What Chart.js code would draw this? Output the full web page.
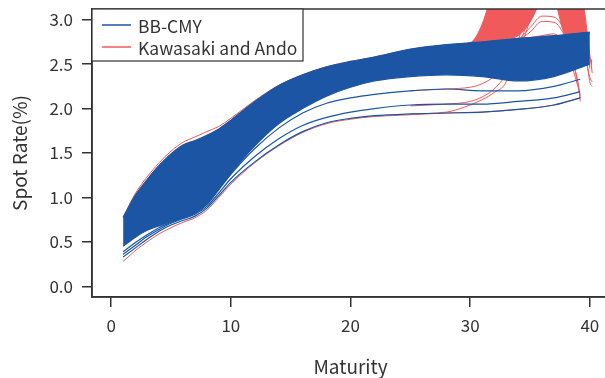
<!DOCTYPE html>
<html>
<head>
<meta charset="utf-8">
<script src="https://cdn.jsdelivr.net/npm/chart.js@4.4.1/dist/chart.umd.min.js"></script>
<style>
  html, body { margin: 0; padding: 0; background: #fff; overflow: hidden; }
  #wrap { width: 620px; height: 378px; }
</style>
</head>
<body>
<div id="wrap"><canvas id="chart"></canvas></div>
<script>
const blue = "#1b55a3";
const red = "#f05a5a";
const ink = "#333333";

const legendLabels = ["BB-CMY", "Kawasaki and Ando"];
const xTicks = [0, 10, 20, 30, 40];
const yTicks = [0, 0.5, 1, 1.5, 2, 2.5, 3];

// maturity grids (years)
const maturity = [1, 2, 3, 4, 5, 6, 7, 8, 9, 10, 12, 14, 16, 18, 20, 22, 25, 28, 31, 34, 37, 40];
const lowMaturity = [1, 2, 3, 4, 5, 6, 7, 8, 9, 10, 12, 14, 16, 18, 20, 22, 25, 28, 31, 34, 37, 39.2];
const tailMaturity = [25, 28, 30, 31, 32, 33, 34, 35, 36, 37, 38, 38.5, 39, 39.2, 39.5, 40, 40.2];

// BB-CMY: edges of the dense bundle + the curves that drop below it
const bandTop = [0.78, 1.02, 1.20, 1.36, 1.49, 1.59, 1.64, 1.70, 1.77, 1.87, 2.08, 2.26, 2.38, 2.47, 2.53, 2.58, 2.67, 2.72, 2.75, 2.79, 2.82, 2.86];
const bandBottom = [0.45, 0.55, 0.63, 0.68, 0.73, 0.77, 0.82, 0.92, 1.09, 1.27, 1.58, 1.83, 2.00, 2.14, 2.24, 2.31, 2.36, 2.38, 2.36, 2.31, 2.36, 2.50];
const cmyLowA = [0.33, 0.43, 0.53, 0.62, 0.69, 0.74, 0.79, 0.88, 1.02, 1.17, 1.40, 1.59, 1.74, 1.84, 1.89, 1.92, 1.94, 1.95, 1.96, 1.99, 2.04, 2.12];
const cmyLowB = [0.36, 0.46, 0.56, 0.64, 0.71, 0.76, 0.81, 0.90, 1.05, 1.21, 1.46, 1.66, 1.81, 1.90, 1.96, 2.00, 2.04, 2.05, 2.05, 2.08, 2.12, 2.19];
const cmyLowC = [0.39, 0.49, 0.58, 0.66, 0.72, 0.77, 0.83, 0.93, 1.09, 1.26, 1.55, 1.78, 1.95, 2.06, 2.12, 2.16, 2.20, 2.22, 2.20, 2.20, 2.25, 2.33];

// Kawasaki and Ando
const kaTop = [0.77, 1.04, 1.23, 1.39, 1.52, 1.62, 1.68, 1.74, 1.80, 1.89, 2.09, 2.26, 2.38, 2.47, 2.53, 2.58, 2.66, 2.71, 2.74, 2.78, 2.81, 2.85];
const kaLow = [0.28, 0.40, 0.50, 0.59, 0.66, 0.72, 0.77, 0.86, 1.00, 1.15, 1.39, 1.58, 1.73, 1.83, 1.88, 1.91, 1.93, 1.95, 1.96, 1.99, 2.04, 2.12];
const kaFanEarly = [2.66, 2.71, 2.74, 2.95, 3.40, 3.90, 4.20, 4.30, 4.00, 3.30, 2.78, 2.70, 2.64, 2.62, 2.60, 2.56, 2.54];
const kaFanLate = [2.66, 2.71, 2.72, 2.74, 2.76, 2.78, 2.82, 2.97, 3.25, 3.50, 3.62, 3.60, 3.45, 3.35, 3.15, 2.60, 2.40];
const kaArchOuter = [2.66, 2.71, 2.73, 2.74, 2.75, 2.76, 2.78, 2.91, 3.04, 3.03, 2.83, 2.58, 2.30, 2.12, null, null, null];
const kaArchInner = [2.65, 2.70, 2.72, 2.73, 2.74, 2.75, 2.77, 2.86, 2.98, 2.97, 2.78, 2.55, 2.28, 2.08, null, null, null];
const kaRise1 = [1.94, 1.96, 2.04, 2.10, 2.18, 2.30, 2.75, 3.30, 3.80, 4.00, 3.90, 3.70, 3.30, 3.05, 2.70, 2.35, 2.30];
const kaRise2 = [2.03, 2.05, 2.08, 2.13, 2.22, 2.38, 2.62, 3.00, 3.50, 3.90, 4.00, 3.85, 3.55, 3.35, 3.00, 2.45, null];
const kaRise3 = [2.20, 2.22, 2.24, 2.28, 2.36, 2.50, 2.70, 3.05, 3.50, 3.80, 3.85, 3.70, 3.40, 3.20, 2.85, 2.30, 2.25];
const kaDrop = [2.60, 2.68, 2.70, 2.72, 2.74, 2.76, 2.78, 2.80, 2.82, 2.84, 2.68, 2.48, 2.25, 2.15, null, null, null];

function curve(xs, ys) {
    return xs.map((x, i) => ({ x: x, y: ys[i] }));
}

function line(label, xs, ys, color, order, extra) {
    return Object.assign({
        label: label,
        data: curve(xs, ys),
        borderColor: color,
        borderWidth: 1.2,
        pointRadius: 0,
        fill: false,
        order: order,
    }, extra || {});
}

const datasets = [
    line(legendLabels[0], maturity, bandTop, blue, 1),
    line(legendLabels[0], maturity, bandBottom, blue, 1, { fill: "-1", backgroundColor: blue }),
    line(legendLabels[0], lowMaturity, cmyLowA, blue, 0),
    line(legendLabels[0], lowMaturity, cmyLowB, blue, 0),
    line(legendLabels[0], lowMaturity, cmyLowC, blue, 0),
    line(legendLabels[1], maturity, kaTop, red, 2, { borderWidth: 1 }),
    line(legendLabels[1], lowMaturity, kaLow, red, 2, { borderWidth: 1 }),
    line(legendLabels[1], tailMaturity, kaFanEarly, red, 3, { borderWidth: 1 }),
    line(legendLabels[1], tailMaturity, kaFanLate, red, 3, { borderWidth: 1, fill: "-1", backgroundColor: red }),
    line(legendLabels[1], tailMaturity, kaArchOuter, red, 2, { borderWidth: 1 }),
    line(legendLabels[1], tailMaturity, kaArchInner, red, 2, { borderWidth: 1 }),
    line(legendLabels[1], tailMaturity, kaRise1, red, 2, { borderWidth: 1 }),
    line(legendLabels[1], tailMaturity, kaRise2, red, 2, { borderWidth: 1 }),
    line(legendLabels[1], tailMaturity, kaRise3, red, 2, { borderWidth: 1 }),
    line(legendLabels[1], tailMaturity, kaDrop, red, 2, { borderWidth: 1 }),
];

// box round the plot region (top edge is visible, right edge is off-page)
const frame = {
    id: "frame",
    afterDatasetsDraw(chart) {
        const { ctx, chartArea } = chart;
        ctx.save();
        ctx.strokeStyle = ink;
        ctx.lineWidth = 1.5;
        ctx.strokeRect(chartArea.left, chartArea.top, chartArea.right - chartArea.left, chartArea.bottom - chartArea.top);
        ctx.restore();
    }
};

const legendBox = {
    id: "legendBox",
    afterDraw(chart) {
        const { ctx, chartArea } = chart;
        const x0 = chartArea.left;
        const y0 = chartArea.top;
        ctx.save();
        ctx.fillStyle = "#fff";
        ctx.fillRect(x0, y0, 211, 52);
        ctx.strokeStyle = ink;
        ctx.lineWidth = 1.2;
        ctx.strokeRect(x0, y0, 211, 52);
        const colors = [blue, red];
        ctx.font = "17.5px 'Noto Sans CJK JP', 'Noto Sans', sans-serif";
        ctx.textBaseline = "middle";
        legendLabels.forEach((text, i) => {
            const y = y0 + 16 + i * 22;
            ctx.strokeStyle = colors[i];
            ctx.lineWidth = 1.5;
            ctx.beginPath();
            ctx.moveTo(x0 + 10, y);
            ctx.lineTo(x0 + 39, y);
            ctx.stroke();
            ctx.fillStyle = ink;
            ctx.fillText(text, x0 + 46, y + 1);
        });
        ctx.restore();
    }
};

Chart.defaults.font.family = "'Noto Sans CJK JP', 'Noto Sans', sans-serif";
Chart.defaults.color = ink;

const ctx = document.querySelector("#chart");
const myChart = new Chart(ctx, {
    type: "line",
    data: { datasets: datasets },
    options: {
        responsive: true,
        maintainAspectRatio: false,
        animation: false,
        layout: { padding: { top: 9, right: 11, left: 0, bottom: 0 } },
        elements: { line: { cubicInterpolationMode: "monotone" } },
        plugins: { legend: { display: false }, tooltip: { enabled: false } },
        scales: {
            x: {
                type: "linear",
                min: -1.6,
                max: 41.6,
                afterBuildTicks: (scale) => { scale.ticks = xTicks.map(v => ({ value: v })); },
                afterFit: (scale) => {
                    scale.height = 81;
                    scale.paddingLeft = 0;
                    scale.paddingRight = 0;
                },
                ticks: { font: { size: 17 }, padding: 8, color: ink, maxRotation: 0, callback: (v) => String(v) },
                grid: { drawOnChartArea: false, drawTicks: true, tickLength: 10, color: ink, lineWidth: 1.5 },
                border: { display: true, color: ink, width: 1.5 },
                title: { display: true, text: "Maturity", font: { size: 19 }, padding: { top: 0, bottom: 0 }, color: ink },
            },
            y: {
                min: -0.12,
                max: 3.12,
                afterBuildTicks: (scale) => { scale.ticks = yTicks.map(v => ({ value: v })); },
                afterFit: (scale) => {
                    scale.width = 92;
                    scale.paddingTop = 0;
                    scale.paddingBottom = 0;
                },
                ticks: { font: { size: 17 }, padding: 9, color: ink, callback: (v) => v.toFixed(1) },
                grid: { drawOnChartArea: false, drawTicks: true, tickLength: 10, color: ink, lineWidth: 1.5 },
                border: { display: true, color: ink, width: 1.5 },
                title: { display: true, text: "Spot Rate(%)", font: { size: 19 }, padding: { top: 8, bottom: 0 }, color: ink },
            },
        },
    },
    plugins: [frame, legendBox],
});
</script>
</body>
</html>
